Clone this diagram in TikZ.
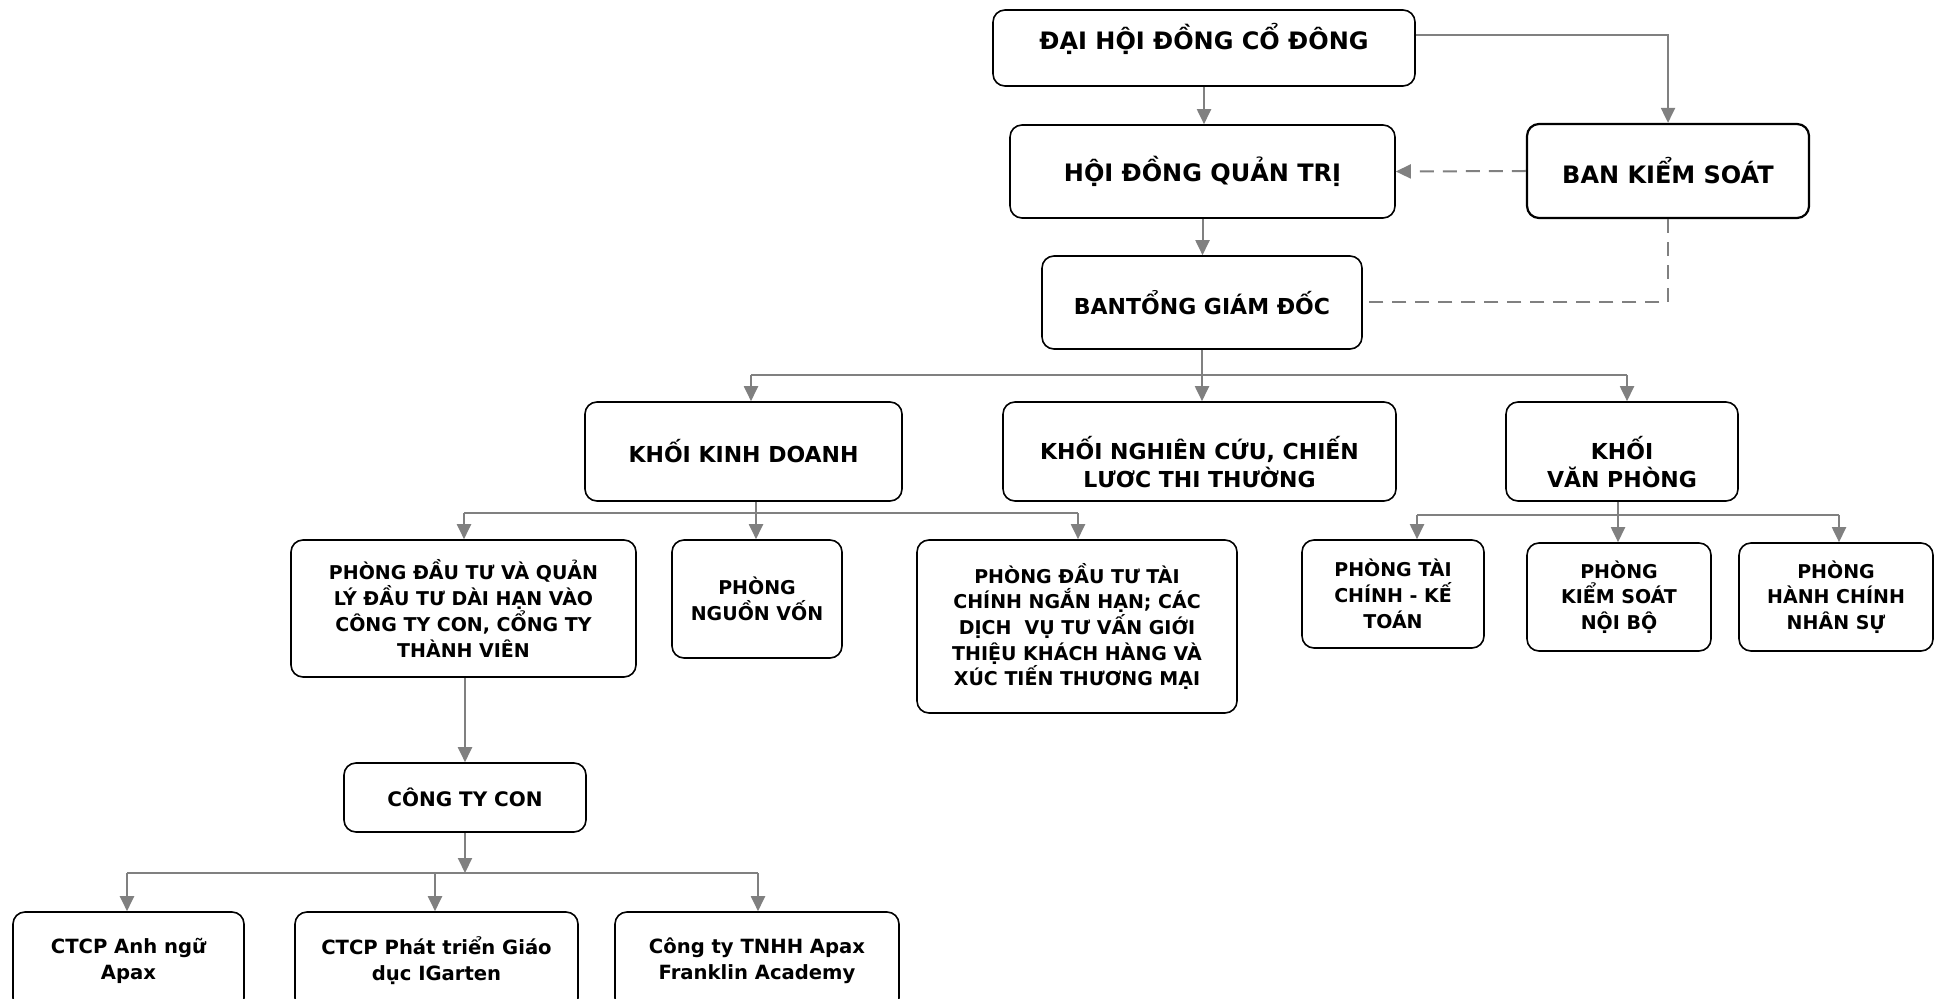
\documentclass[tikz,border=0pt]{standalone}
\usepackage{fontspec}
\setmainfont{DejaVu Sans}
\usetikzlibrary{arrows.meta}

\tikzset{
  box/.style={draw, line width=0.8pt, rounded corners=6pt, align=center, inner sep=2pt},
  lvlone/.style={box, font=\bfseries\fontsize{12}{15}\selectfont},
  lvltwo/.style={box, font=\bfseries\fontsize{11}{14.25}\selectfont},
  lvlthree/.style={box, font=\bfseries\fontsize{9.5}{12.85}\selectfont},
  lvlfour/.style={box, font=\bfseries\fontsize{9.8}{13}\selectfont},
  link/.style={draw=black!50, line width=1pt},
  arr/.style={link, -{Triangle[length=7.5pt,width=7pt]}},
  dashlink/.style={link, dash pattern=on 7pt off 4.5pt},
}
\newcommand{\lowtext}{\rule{0pt}{22pt}}

\begin{document}
\begin{tikzpicture}[x=0.5pt, y=-0.5pt]
    \clip (0,0) rectangle (1946,999);
    \fill[white] (0,0) rectangle (1946,999);
    % top
    \node[lvlone, text depth=11.5pt, minimum width=211pt, minimum height=38pt] (dhdcd) at (1204,48) {ĐẠI HỘI ĐỒNG CỔ ĐÔNG};
    \node[lvlone, minimum width=192.5pt, minimum height=46.5pt] (hdqt) at (1202.5,171.5) {HỘI ĐỒNG QUẢN TRỊ};
    \node[lvlone, line width=1.1pt, minimum width=141pt, minimum height=47pt] (bks) at (1668,171) {BAN KIỂM SOÁT};
    \node[lvlone, font=\bfseries\fontsize{11}{14}\selectfont, minimum width=160pt, minimum height=46.5pt] (btgd) at (1202,302.5) {BANTỔNG GIÁM ĐỐC};
    % khoi
    \node[lvltwo, minimum width=158.5pt, minimum height=49.5pt] (kkd) at (743.5,451.5) {KHỐI KINH DOANH};
    \node[lvltwo, minimum width=196.5pt, minimum height=49.5pt] (knc) at (1199.5,451.5) {\lowtext KHỐI NGHIÊN CỨU, CHIẾN\\LƯƠC THI THƯỜNG};
    \node[lvltwo, minimum width=116pt, minimum height=49.5pt] (kvp) at (1622,451.5) {\lowtext KHỐI\\VĂN PHÒNG};
    % phong
    \node[lvlthree, minimum width=172.5pt, minimum height=68.5pt] (pdthan) at (463.5,608.5) {PHÒNG ĐẦU TƯ VÀ QUẢN\\LÝ ĐẦU TƯ DÀI HẠN VÀO\\CÔNG TY CON, CỔNG TY\\THÀNH VIÊN};
    \node[lvlthree, minimum width=85pt, minimum height=59pt] (pnv) at (757,599) {PHÒNG\\NGUỒN VỐN};
    \node[lvlthree, minimum width=160pt, minimum height=86.5pt] (pdttc) at (1077,626.5) {PHÒNG ĐẦU TƯ TÀI\\CHÍNH NGẮN HẠN; CÁC\\DỊCH\ \ VỤ TƯ VẤN GIỚI\\THIỆU KHÁCH HÀNG VÀ\\XÚC TIẾN THƯƠNG MẠI};
    \node[lvlthree, minimum width=91pt, minimum height=54pt] (ptckt) at (1393,594) {PHÒNG TÀI\\CHÍNH - KẾ\\TOÁN};
    \node[lvlthree, minimum width=92pt, minimum height=54pt] (pkskb) at (1619,597) {PHÒNG\\KIỂM SOÁT\\NỘI BỘ};
    \node[lvlthree, minimum width=97pt, minimum height=54pt] (phcns) at (1836,597) {PHÒNG\\HÀNH CHÍNH\\NHÂN SỰ};
    % cong ty con
    \node[lvlthree, font=\bfseries\fontsize{10}{13}\selectfont, minimum width=121pt, minimum height=34.5pt] (ctc) at (465,797.5) {CÔNG TY CON};
    \node[lvlfour, minimum width=115.5pt, minimum height=49pt] (ctanh) at (128.5,961) {CTCP Anh ngữ\\Apax};
    \node[lvlfour, minimum width=141.5pt, minimum height=49pt] (ctig) at (436.5,961) {CTCP Phát triển Giáo\\dục IGarten};
    \node[lvlfour, minimum width=142pt, minimum height=49pt] (ctfa) at (757,961) {Công ty TNHH Apax\\Franklin Academy};

    % links
    \draw[arr] (dhdcd.south) -- (dhdcd.south |- hdqt.north);
    \draw[arr] ([yshift=6.5pt]dhdcd.east) -| (bks.north);
    \draw[arr, dash pattern=on 7pt off 4.5pt] (bks.west) -- (hdqt.east);
    \draw[arr] (hdqt.south) -- (hdqt.south |- btgd.north);
    \draw[dashlink] (bks.south) |- (btgd.east);

    \coordinate (tA) at (1202,375);
    \draw[link] (btgd.south) -- (tA);
    \draw[link] (751,375) -- (1627,375);
    \foreach \x/\n in {751/kkd, 1202/knc, 1627/kvp}
        \draw[arr] (\x,375) -- (\x,375 |- \n.north);

    \coordinate (tB) at (756,513);
    \draw[link] (kkd.south -| tB) -- (tB);
    \draw[link] (464,513) -- (1078,513);
    \foreach \x/\n in {464/pdthan, 756/pnv, 1078/pdttc}
        \draw[arr] (\x,513) -- (\x,513 |- \n.north);

    \coordinate (tC) at (1618,515);
    \draw[link] (kvp.south -| tC) -- (tC);
    \draw[link] (1417,515) -- (1839,515);
    \foreach \x/\n in {1417/ptckt, 1618/pkskb, 1839/phcns}
        \draw[arr] (\x,515) -- (\x,515 |- \n.north);

    \draw[arr] (pdthan.south -| ctc.north) -- (ctc.north);

    \coordinate (tD) at (465,873);
    \draw[arr] (ctc.south) -- (tD);
    \draw[link] (127,873) -- (758,873);
    \foreach \x/\n in {127/ctanh, 435/ctig, 758/ctfa}
        \draw[arr] (\x,873) -- (\x,873 |- \n.north);
\end{tikzpicture}
\end{document}
